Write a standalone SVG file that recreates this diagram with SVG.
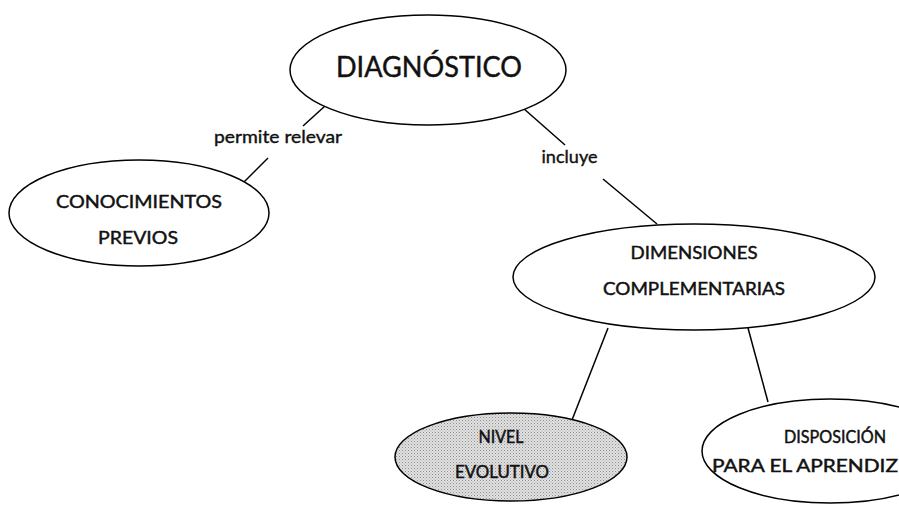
<svg xmlns="http://www.w3.org/2000/svg" width="899" height="506" viewBox="0 0 899 506">
  <style>
    .node { fill: #ffffff; stroke: #000000; stroke-width: 1.5; }
    .shaded { fill: url(#stipple); stroke: #000000; stroke-width: 1.5; }
    .label { font-family: "Lato", "Open Sans", sans-serif; fill: #111111; stroke: #111111; stroke-width: 0.45; text-anchor: middle; }
    .link { stroke: #000000; stroke-width: 1.5; fill: none; }
    .linktext { font-family: "Lato", "Open Sans", sans-serif; font-size: 18px; fill: #111111; stroke: #111111; stroke-width: 0.4; text-anchor: middle; }
  </style>
  <defs>
    <!-- fine grey dot screen used for the highlighted concept -->
    <pattern id="stipple" width="3" height="3" patternUnits="userSpaceOnUse">
      <rect width="3" height="3" fill="#e0e0e0"/>
      <rect x="0" y="0" width="1" height="1" fill="#8f8f8f"/>
      <rect x="1.5" y="1.5" width="1" height="1" fill="#adadad"/>
    </pattern>
  </defs>
  <rect width="899" height="506" fill="#ffffff"/>

  <!-- connectors (each broken around its linking phrase) -->
  <g id="connectors">
    <line class="link" x1="325" y1="106" x2="303" y2="126"/>
    <line class="link" x1="268" y1="158" x2="244" y2="182"/>
    <text class="linktext" x="278" y="143" textLength="128" lengthAdjust="spacingAndGlyphs">permite relevar</text>

    <line class="link" x1="523" y1="108" x2="565" y2="145"/>
    <line class="link" x1="603" y1="179" x2="657" y2="224"/>
    <text class="linktext" x="569.5" y="163" textLength="56" lengthAdjust="spacingAndGlyphs">incluye</text>

    <line class="link" x1="608" y1="328" x2="572" y2="420"/>
    <line class="link" x1="748" y1="328" x2="768" y2="402"/>
  </g>

  <g id="diagnostico">
    <ellipse class="node" cx="428" cy="70" rx="138" ry="55"/>
    <text class="label" x="429" y="77" font-size="28" textLength="186" lengthAdjust="spacingAndGlyphs">DIAGNÓSTICO</text>
  </g>

  <g id="conocimientos-previos">
    <ellipse class="node" cx="139" cy="213" rx="130" ry="53"/>
    <text class="label" x="139" y="208" font-size="18" textLength="166" lengthAdjust="spacingAndGlyphs">CONOCIMIENTOS</text>
    <text class="label" x="138" y="244" font-size="18" textLength="80" lengthAdjust="spacingAndGlyphs">PREVIOS</text>
  </g>

  <g id="dimensiones-complementarias">
    <ellipse class="node" cx="694" cy="277" rx="181" ry="53"/>
    <text class="label" x="694" y="259" font-size="17.5" textLength="127" lengthAdjust="spacingAndGlyphs">DIMENSIONES</text>
    <text class="label" x="694" y="295" font-size="17.5" textLength="182" lengthAdjust="spacingAndGlyphs">COMPLEMENTARIAS</text>
  </g>

  <g id="nivel-evolutivo">
    <ellipse class="shaded" cx="511" cy="457" rx="116" ry="44"/>
    <text class="label" x="501" y="443" font-size="16.5" textLength="45" lengthAdjust="spacingAndGlyphs">NIVEL</text>
    <text class="label" x="502" y="478" font-size="16.5" textLength="94" lengthAdjust="spacingAndGlyphs">EVOLUTIVO</text>
  </g>

  <g id="disposicion-aprendizaje">
    <ellipse class="node" cx="830" cy="451" rx="128" ry="52"/>
    <text class="label" x="835" y="443" font-size="16.5" textLength="102" lengthAdjust="spacingAndGlyphs">DISPOSICIÓN</text>
    <text class="label" x="805" y="472" font-size="16.5" textLength="186" lengthAdjust="spacingAndGlyphs">PARA EL APRENDIZ</text>
  </g>
</svg>
